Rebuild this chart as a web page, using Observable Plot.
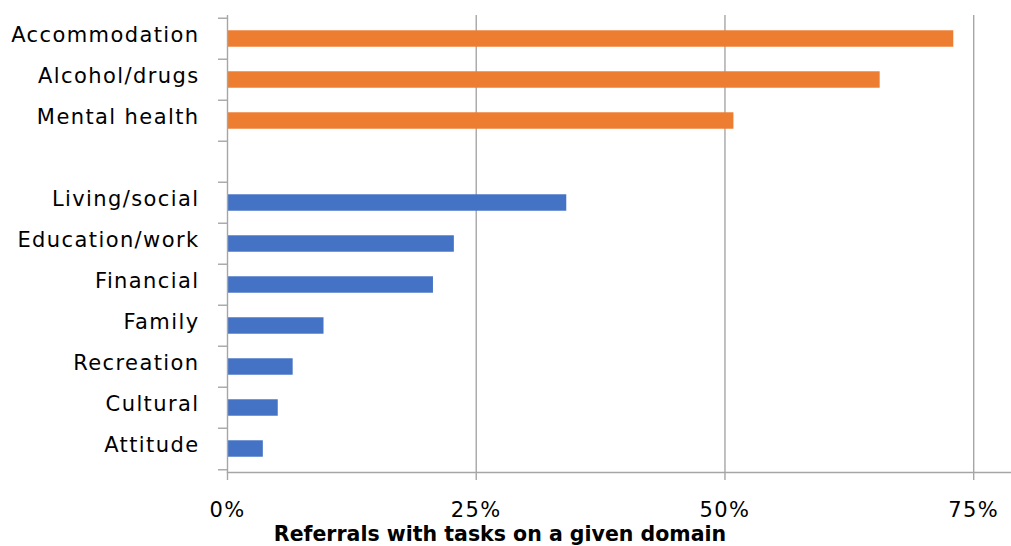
<!DOCTYPE html>
<html>
<head>
<meta charset="utf-8">
<script src="https://cdn.jsdelivr.net/npm/d3@7"></script>
<script src="https://cdn.jsdelivr.net/npm/@observablehq/plot@0.6"></script>
<style>
  html, body { margin: 0; padding: 0; background: #fff; }
  #chart { width: 1011px; height: 546px; overflow: hidden; }
  #title { font-family: "DejaVu Sans", sans-serif; font-weight: bold; font-size: 20.5px; line-height: 22px; margin-top: -3px; text-align: center; width: 1000px; color: #000; white-space: nowrap; }
</style>
</head>
<body>
<div id="chart"></div>
<script>
const domains = ["Accommodation", "Alcohol/drugs", "Mental health", "Living/social", "Education/work", "Financial", "Family", "Recreation", "Cultural", "Attitude"];
const shares = [73.0, 65.6, 50.9, 34.1, 22.8, 20.7, 9.7, 6.6, 5.1, 3.6];
const groups = ["Top", "Top", "Top", "Other", "Other", "Other", "Other", "Other", "Other", "Other"];
const spacer = " ";
const yOrder = ["Accommodation", "Alcohol/drugs", "Mental health", spacer, "Living/social", "Education/work", "Financial", "Family", "Recreation", "Cultural", "Attitude"];
const xTicks = [0, 25, 50, 75];
const gridTicks = [25, 50, 75];
const groupNames = ["Top", "Other"];
const groupColors = ["#ed7d31", "#4472c4"];
const axisTitle = "Referrals with tasks on a given domain";

const data = domains.map((d, i) => ({domain: d, share: shares[i], group: groups[i]}));

const W = 1011, H = 526, mT = 15, mB = 54, mL = 227, mR = 0;
const step = (H - mT - mB) / yOrder.length;
const barH = 17;
const inset = (step - barH) / 2;
const lineColor = "#a6a6a6";

const plot = Plot.plot({
  width: W, height: H,
  marginTop: mT, marginBottom: mB, marginLeft: mL, marginRight: mR,
  style: {fontFamily: "DejaVu Sans, sans-serif", fontSize: "21px", color: "#000", background: "#fff", letterSpacing: "1.4px"},
  x: {domain: [0, 78.8], axis: null},
  y: {domain: yOrder, padding: 0, axis: null},
  color: {domain: groupNames, range: groupColors},
  marks: [
    Plot.gridX(gridTicks, {stroke: lineColor, strokeOpacity: 1, strokeWidth: 1.4}),
    Plot.barX(data, {x: "share", y: "domain", fill: "group", insetTop: inset, insetBottom: inset}),
    Plot.ruleX([0], {stroke: lineColor, strokeWidth: 1.4}),
    Plot.frame({anchor: "bottom", stroke: lineColor, strokeWidth: 1.4}),
    Plot.axisY({tickSize: 0, tickPadding: 28, label: null, fill: "#000", dy: -4}),
    Plot.axisY({text: null, tickSize: 9, dy: -step / 2, stroke: lineColor, strokeWidth: 1.4, label: null}),
    Plot.axisY([yOrder[yOrder.length - 1]], {text: null, tickSize: 9, dy: step / 2, stroke: lineColor, strokeWidth: 1.4, label: null}),
    Plot.axisX({ticks: xTicks, tickSize: 8, tickPadding: 22, tickFormat: d => d + "%", stroke: lineColor, strokeWidth: 1.4, fill: "#000", label: null})
  ]
});
document.getElementById("chart").appendChild(plot);
const t = document.createElement("div");
t.id = "title";
t.textContent = axisTitle;
document.getElementById("chart").appendChild(t);
</script>
</body>
</html>
